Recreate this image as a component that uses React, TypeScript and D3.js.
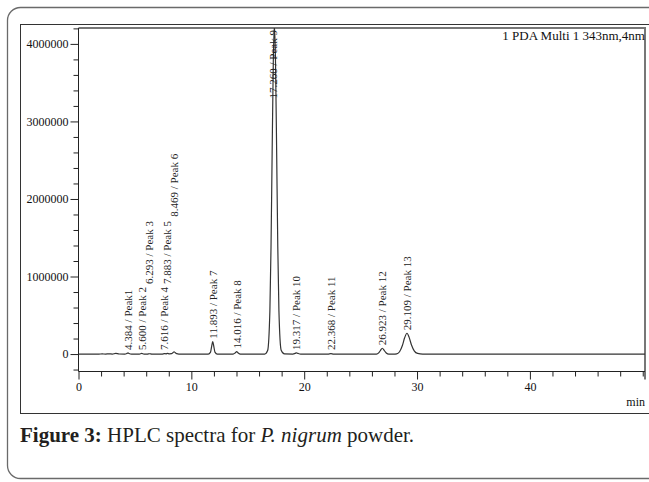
import React, { useEffect, useRef } from "react";
import * as d3 from "d3";

// chromatogram trace (time in min, detector response)
const traceTime = [
  0, 1.8, 2.1, 2.4, 2.7, 3.0, 3.3, 3.6, 4.1, 4.3, 4.384, 4.48, 4.7, 5.4, 5.6, 5.8,
  6.1, 6.293, 6.5, 7.4, 7.616, 7.75, 7.883, 8.05, 8.25, 8.36, 8.469, 8.58, 8.7, 8.9,
  11.5, 11.7, 11.8, 11.893, 11.99, 12.09, 12.3, 13.7, 13.88, 14.016, 14.15, 14.35,
  16.5, 16.76, 16.96, 17.06, 17.16, 17.26, 17.36, 17.46, 17.56, 17.66, 17.76, 17.96, 18.25,
  19.0, 19.2, 19.317, 19.45, 19.7, 22.1, 22.368, 22.6,
  26.4, 26.6, 26.75, 26.923, 27.1, 27.27, 27.5, 27.9,
  28.2, 28.45, 28.7, 28.9, 29.109, 29.3, 29.5, 29.75, 30.05, 30.5, 50.2,
];
const traceSignal = [
  0, 0, 2000, 0, 2500, 0, 9000, 1000, 0, 9000, 15000, 8000, 0, 0, 8000, 0,
  0, 4000, 0, 0, 6000, 3000, 8000, 3000, 5000, 17000, 30000, 17000, 5000, 0,
  0, 25000, 100000, 160000, 100000, 25000, 0, 0, 14000, 32000, 14000, 0,
  0, 45000, 560000, 1380000, 2600000, 3750000, 4250000, 3750000, 2600000, 1380000, 560000, 50000, 2000,
  0, 9000, 15000, 8000, 0, 0, 5000, 0,
  0, 15000, 45000, 75000, 45000, 14000, -2000, -2000,
  3000, 30000, 110000, 210000, 268000, 215000, 120000, 42000, 8000, 0, 0,
];

const peakTime = [4.384, 5.6, 6.293, 7.616, 7.883, 8.469, 11.893, 14.016, 17.26, 19.317, 22.368, 26.923, 29.109];
const peakHeight = [15000, 8000, 4000, 6000, 8000, 30000, 160000, 32000, 4250000, 15000, 5000, 75000, 268000];
const peakLabels = [
  "4.384 / Peak1", "5.600 / Peak 2", "6.293 / Peak 3", "7.616 / Peak 4", "7.883 / Peak 5",
  "8.469 / Peak 6", "11.893 / Peak 7", "14.016 / Peak 8", "17.260 / Peak 9", "19.317 / Peak 10",
  "22.368 / Peak 11", "26.923 / Peak 12", "29.109 / Peak 13",
];

const yMajorTicks = [0, 1000000, 2000000, 3000000, 4000000];
const xMajorTicks = [0, 10, 20, 30, 40];

const serif = "'Liberation Serif', 'Times New Roman', serif";

const App = () => {
  const ref = useRef<SVGSVGElement>(null);

  useEffect(() => {
    const svg = d3.select(ref.current);
    svg.selectAll("*").remove();

    const left = 78.5, right = 645, top = 28, bottom = 371.5;

    const x = d3.scaleLinear().domain([0, 50.2]).range([left, right]);
    const y = d3.scaleLinear().domain([-225000, 4205000]).range([bottom, top]);

    // outer card + figure box
    svg.append("rect")
      .attr("x", 7.5).attr("y", 7.5).attr("width", 720).attr("height", 471)
      .attr("rx", 13).attr("fill", "none").attr("stroke", "#6a6a6a").attr("stroke-width", 1.3);
    svg.append("rect")
      .attr("x", 20.5).attr("y", 24.5).attr("width", 700).attr("height", 389)
      .attr("fill", "none").attr("stroke", "#333").attr("stroke-width", 1);

    // plot frame (top + right, doubled grey)
    svg.append("path")
      .attr("d", `M${left},${top}H${right}V${bottom + 8}`)
      .attr("fill", "none").attr("stroke", "#777").attr("stroke-width", 2);

    // y axis
    const yMinor = d3.range(-200000, 4200001, 200000).filter((v) => !yMajorTicks.includes(v));
    const yAxis = svg.append("g").attr("transform", `translate(${left},0)`);
    yAxis.call(
      d3.axisLeft(y).tickValues(yMajorTicks).tickSize(8).tickFormat(d3.format("d"))
    );
    yAxis.append("g").call(d3.axisLeft(y).tickValues(yMinor).tickSize(5).tickFormat(() => ""))
      .select(".domain").remove();
    yAxis.select(".domain").attr("d", `M0,${top}V${bottom}`);
    yAxis.selectAll("line, path").attr("stroke", "#222");
    yAxis.selectAll("text")
      .attr("font-family", serif).attr("font-size", 12).attr("fill", "#111").attr("x", -10);

    // x axis
    const xMinor = d3.range(0, 50.1, 2).filter((v) => !xMajorTicks.includes(v));
    const xAxis = svg.append("g").attr("transform", `translate(0,${bottom})`);
    xAxis.call(d3.axisBottom(x).tickValues(xMajorTicks).tickSize(8).tickFormat(d3.format("d")));
    xAxis.append("g").call(d3.axisBottom(x).tickValues(xMinor).tickSize(5).tickFormat(() => ""))
      .select(".domain").remove();
    xAxis.select(".domain").attr("d", `M${left},0H${right}`);
    xAxis.selectAll("line, path").attr("stroke", "#222");
    xAxis.selectAll("text")
      .attr("font-family", serif).attr("font-size", 12).attr("fill", "#111").attr("y", 11);

    svg.append("text")
      .attr("x", right).attr("y", 406).attr("text-anchor", "end")
      .attr("font-family", serif).attr("font-size", 12).attr("fill", "#111")
      .text("min");

    // trace
    svg.append("clipPath").attr("id", "plotClip")
      .append("rect").attr("x", left).attr("y", top).attr("width", right - left).attr("height", bottom - top);

    const line = d3.line<number>()
      .x((_, i) => x(traceTime[i]))
      .y((d) => y(d))
      .curve(d3.curveMonotoneX);

    svg.append("path")
      .datum(traceSignal)
      .attr("clip-path", "url(#plotClip)")
      .attr("fill", "none")
      .attr("stroke", "#333")
      .attr("stroke-width", 1.2)
      .attr("d", line);

    // peak labels, stacked when they would collide
    const placed: { px: number; level: number }[] = [];
    const labelStep = 66;
    peakLabels.forEach((label, i) => {
      const px = x(peakTime[i]);
      let level = 0;
      while (placed.some((p) => p.level === level && Math.abs(p.px - px) < 11)) level++;
      placed.push({ px, level });

      const t = svg.append("text")
        .attr("font-family", serif).attr("font-size", 11).attr("fill", "#222")
        .attr("dy", "0.35em")
        .text(label);
      const len = (t.node() as SVGTextElement).getComputedTextLength();
      let base = Math.min(y(peakHeight[i]) - 3, 350) - level * labelStep;
      if (base - len < top + 2) base = top + 2 + len;
      t.attr("transform", `translate(${px},${base}) rotate(-90)`);
    });

    svg.append("text")
      .attr("x", right).attr("y", 40).attr("text-anchor", "end")
      .attr("font-family", serif).attr("font-size", 13).attr("fill", "#111")
      .text("1 PDA Multi 1 343nm,4nm");

    // caption
    const cap = svg.append("text")
      .attr("x", 20).attr("y", 442)
      .attr("font-family", serif).attr("font-size", 21).attr("fill", "#231f20");
    cap.append("tspan").attr("font-weight", "bold").text("Figure 3:");
    cap.append("tspan").text(" HPLC spectra for ");
    cap.append("tspan").attr("font-style", "italic").text("P. nigrum");
    cap.append("tspan").text(" powder.");
  }, []);

  return (
    <svg
      ref={ref}
      width={649}
      height={482}
      style={{ position: "absolute", left: 0, top: 0, background: "#fff" }}
    />
  );
};

export default App;
